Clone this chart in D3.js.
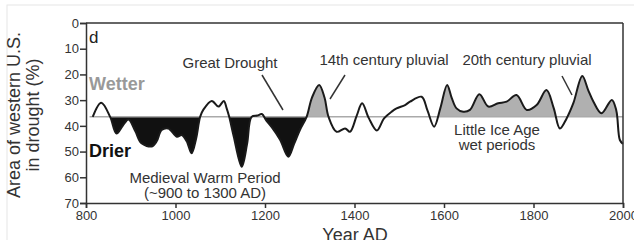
<!DOCTYPE html>
<html lang="en">
<head>
    <meta charset="UTF-8">
    <title>Western U.S. drought area</title>
    <script src="https://d3js.org/d3.v7.min.js"></script>
    <style>
        body { margin: 0; background: #fff; }
        svg { font-family: "Liberation Sans", Arial, sans-serif; }
        .axis text { font-size: 13px; fill: #333; }
        .axis path, .axis line { stroke: #333; stroke-width: 1.5px; }
        .note { font-size: 15px; fill: #333; }
        .leader { stroke: #333; stroke-width: 1.5px; }
    </style>
</head>
<body>
    <script>
        // reconstruction (smoothed)
        const years = [815, 834, 854, 868, 882, 895, 910, 924, 947, 958, 969, 984, 1003, 1014, 1025, 1036,
            1046, 1055, 1062, 1081, 1096, 1108, 1114, 1120, 1130, 1148, 1160, 1170, 1183, 1193, 1203,
            1215, 1234, 1252, 1265, 1278, 1293, 1305, 1321, 1333, 1342, 1360, 1379, 1390, 1405, 1417,
            1432, 1450, 1466, 1483, 1494, 1513, 1524, 1550, 1563, 1578, 1592, 1607, 1617, 1628, 1643,
            1658, 1679, 1699, 1721, 1740, 1762, 1785, 1807, 1829, 1845, 1859, 1874, 1889, 1909, 1922,
            1934, 1952, 1975, 1985, 1993, 2000];
        const drought = [36.5, 31, 36.5, 43, 40, 37.5, 42, 46.8, 48, 46, 41.6, 41, 44.2, 43.6, 46, 50.7,
            45, 36.5, 33.8, 30.3, 32.5, 30.3, 33, 36.5, 44, 55.9, 47, 36.5, 36, 35.4, 38,
            40.5, 45.5, 52, 47, 41.6, 36.5, 29, 24.1, 29, 36.5, 42.3, 41, 42.3, 36, 31.2,
            37, 41.8, 37.1, 34.5, 33.2, 31.9, 30.6, 28.7, 34, 40.3, 33, 24.1, 29, 33.2, 34.5,
            33.8, 27.7, 32.5, 31.2, 30.6, 28, 33.8, 31.9, 26.1, 33, 41, 37.1, 31.2, 20.6, 26,
            30.6, 35.1, 29.9, 34, 45.5, 47];
        const baseline = 36.5;
        const dryPeriods = [[850, 1296]];
        const wetPeriods = [[1296, 1345], [1585, 1995]];
        const xTicks = [800, 1000, 1200, 1400, 1600, 1800, 2000];
        const yTicks = [0, 10, 20, 30, 40, 50, 60, 70];

        const width = 634, height = 240;
        const x = d3.scaleLinear().domain([800, 2000]).range([86, 623]);
        const y = d3.scaleLinear().domain([0, 70]).range([23, 203]);

        const svg = d3.select("body").append("svg")
            .attr("width", width)
            .attr("height", height);

        // faint page edge from the screenshot
        svg.append("rect")
            .attr("x", 7).attr("y", 5)
            .attr("width", 700).attr("height", 300)
            .attr("fill", "none").attr("stroke", "#e6e6e6");

        const pts = years.map((yr, i) => ({ yr, v: drought[i] }));

        const defs = svg.append("defs");
        defs.append("clipPath").attr("id", "clip-dry")
            .selectAll("rect").data(dryPeriods).join("rect")
            .attr("x", d => x(d[0])).attr("width", d => x(d[1]) - x(d[0]))
            .attr("y", y(baseline)).attr("height", y(70) - y(baseline));
        defs.append("clipPath").attr("id", "clip-wet")
            .selectAll("rect").data(wetPeriods).join("rect")
            .attr("x", d => x(d[0])).attr("width", d => x(d[1]) - x(d[0]))
            .attr("y", y(0)).attr("height", y(baseline) - y(0));

        const area = d3.area()
            .x(d => x(d.yr))
            .y0(y(baseline))
            .y1(d => y(d.v))
            .curve(d3.curveCatmullRom);

        svg.append("path").datum(pts)
            .attr("d", area)
            .attr("fill", "#111")
            .attr("clip-path", "url(#clip-dry)");
        svg.append("path").datum(pts)
            .attr("d", area)
            .attr("fill", "#b0b0b0")
            .attr("clip-path", "url(#clip-wet)");

        // reference level
        svg.append("line")
            .attr("x1", x(808)).attr("x2", x(2000))
            .attr("y1", y(baseline)).attr("y2", y(baseline))
            .attr("stroke", "#aaa").attr("stroke-width", 1.5);

        const line = d3.line()
            .x(d => x(d.yr))
            .y(d => y(d.v))
            .curve(d3.curveCatmullRom);

        svg.append("path").datum(pts)
            .attr("d", line)
            .attr("fill", "none")
            .attr("stroke", "#1a1a1a")
            .attr("stroke-width", 2);

        // axes + box
        svg.append("g").attr("class", "axis")
            .attr("transform", `translate(0,${y(70)})`)
            .call(d3.axisBottom(x).tickValues(xTicks).tickFormat(d3.format("d")).tickSize(5).tickPadding(3));
        svg.append("g").attr("class", "axis")
            .attr("transform", `translate(${x(800)},0)`)
            .call(d3.axisLeft(y).tickValues(yTicks).tickSize(6).tickPadding(1));
        svg.append("line").attr("class", "leader")
            .attr("x1", x(800)).attr("x2", x(2000)).attr("y1", y(0)).attr("y2", y(0));
        svg.append("line").attr("class", "leader")
            .attr("x1", x(2000)).attr("x2", x(2000)).attr("y1", y(0)).attr("y2", y(70));

        // axis titles
        svg.append("text")
            .attr("transform", "translate(20,115) rotate(-90)")
            .attr("text-anchor", "middle")
            .attr("font-size", 18).attr("fill", "#333")
            .text("Area of western U.S.");
        svg.append("text")
            .attr("transform", "translate(39,115) rotate(-90)")
            .attr("text-anchor", "middle")
            .attr("font-size", 18).attr("fill", "#333")
            .text("in drought (%)");
        svg.append("text")
            .attr("x", 355).attr("y", 241)
            .attr("text-anchor", "middle")
            .attr("font-size", 18).attr("fill", "#333")
            .text("Year AD");

        // labels inside the panel
        svg.append("text").attr("x", 89).attr("y", 43)
            .attr("font-size", 17).attr("fill", "#222").text("d");
        svg.append("text").attr("x", 89).attr("y", 90)
            .attr("font-size", 18).attr("font-weight", "bold").attr("fill", "#999").text("Wetter");
        svg.append("text").attr("x", 89).attr("y", 157)
            .attr("font-size", 18).attr("font-weight", "bold").attr("fill", "#111").text("Drier");

        const notes = [
            { t: "Great Drought", x: 230, y: 68 },
            { t: "14th century pluvial", x: 384, y: 65 },
            { t: "20th century pluvial", x: 527, y: 65 },
            { t: "Medieval Warm Period", x: 205, y: 183 },
            { t: "(~900 to 1300 AD)", x: 205, y: 198 },
            { t: "Little Ice Age", x: 497, y: 135 },
            { t: "wet periods", x: 497, y: 150 }
        ];
        svg.selectAll("text.note").data(notes).join("text")
            .attr("class", "note")
            .attr("x", d => d.x).attr("y", d => d.y)
            .attr("text-anchor", "middle")
            .text(d => d.t);

        const leaders = [[262, 75, 283, 110], [345, 75, 330, 99], [562, 76, 572, 95]];
        svg.selectAll("line.pointer").data(leaders).join("line")
            .attr("class", "leader pointer")
            .attr("x1", d => d[0]).attr("y1", d => d[1])
            .attr("x2", d => d[2]).attr("y2", d => d[3]);
    </script>
</body>
</html>
